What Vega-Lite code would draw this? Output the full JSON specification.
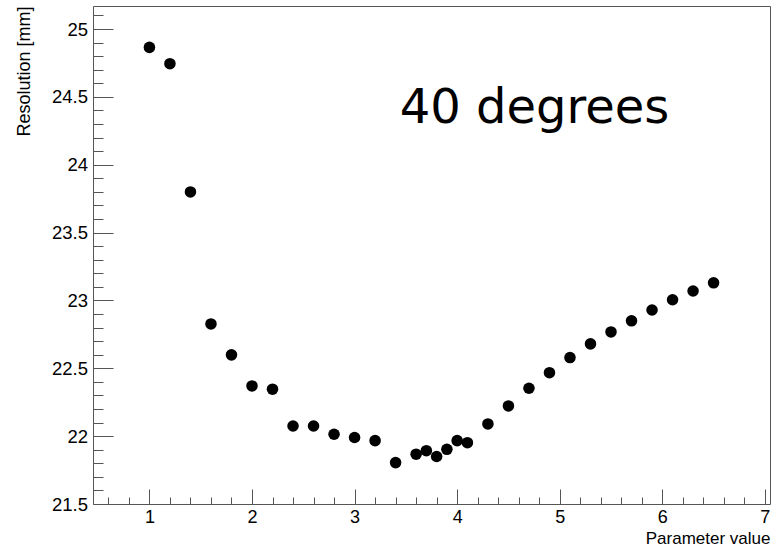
{
  "$schema": "https://vega.github.io/schema/vega-lite/v6.json",
  "width": 677,
  "height": 498,
  "autosize": {"type": "none"},
  "padding": {"left": 93, "top": 6, "right": 4, "bottom": 46},
  "background": "white",
  "config": {
    "view": {"stroke": "#555555", "strokeWidth": 1},
    "font": "Liberation Sans"
  },
  "datasets": {
    "pts": [
      {"param": 1.0, "res": 24.865},
      {"param": 1.2, "res": 24.745},
      {"param": 1.4, "res": 23.80},
      {"param": 1.6, "res": 22.827},
      {"param": 1.8, "res": 22.599},
      {"param": 2.0, "res": 22.37},
      {"param": 2.2, "res": 22.346},
      {"param": 2.4, "res": 22.075},
      {"param": 2.6, "res": 22.075},
      {"param": 2.8, "res": 22.014},
      {"param": 3.0, "res": 21.99},
      {"param": 3.2, "res": 21.967},
      {"param": 3.4, "res": 21.805},
      {"param": 3.6, "res": 21.867},
      {"param": 3.7, "res": 21.893},
      {"param": 3.8, "res": 21.85},
      {"param": 3.9, "res": 21.903},
      {"param": 4.0, "res": 21.967},
      {"param": 4.1, "res": 21.952},
      {"param": 4.3, "res": 22.09},
      {"param": 4.5, "res": 22.223},
      {"param": 4.7, "res": 22.353},
      {"param": 4.9, "res": 22.468},
      {"param": 5.1, "res": 22.579},
      {"param": 5.3, "res": 22.68},
      {"param": 5.5, "res": 22.768},
      {"param": 5.7, "res": 22.85},
      {"param": 5.9, "res": 22.93},
      {"param": 6.1, "res": 23.005},
      {"param": 6.3, "res": 23.07},
      {"param": 6.5, "res": 23.13}
    ],
    "note": [
      {"param": 3.44, "res": 24.307, "label": "40 degrees"}
    ]
  },
  "layer": [
    {
      "data": {"name": "pts"},
      "mark": {"type": "point", "shape": "circle", "filled": true, "color": "black", "opacity": 1, "size": 133},
      "encoding": {
        "x": {
          "field": "param", "type": "quantitative",
          "scale": {"domain": [0.45, 7.05], "nice": false, "zero": false},
          "axis": {
            "title": "Parameter value",
            "values": [0.6,0.8,1,1.2,1.4,1.6,1.8,2,2.2,2.4,2.6,2.8,3,3.2,3.4,3.6,3.8,4,4.2,4.4,4.6,4.8,5,5.2,5.4,5.6,5.8,6,6.2,6.4,6.6,6.8,7],
            "tickCount": 200,
            "labelExpr": "abs(datum.value - round(datum.value)) < 0.001 ? '' + round(datum.value) : ''",
            "tickSize": {"condition": {"test": "abs(datum.value - round(datum.value)) < 0.001", "value": -15}, "value": -7},
            "tickColor": "#555555",
            "tickWidth": 1,
            "domain": false,
            "grid": false,
            "labelFont": "Liberation Sans",
            "labelFontSize": 18,
            "labelColor": "black",
            "labelPadding": 33.5,
            "labelBaseline": "alphabetic",
            "labelFlush": false,
            "labelOverlap": false,
            "titleFont": "Liberation Sans",
            "titleFontSize": 17,
            "titleFontWeight": "normal",
            "titleColor": "black",
            "titleAnchor": "end",
            "titleAlign": "right",
            "titleBaseline": "alphabetic",
            "titleX": 677,
            "titleY": 39.5
          }
        },
        "y": {
          "field": "res", "type": "quantitative",
          "scale": {"domain": [21.5, 25.17], "nice": false, "zero": false},
          "axis": {
            "title": "Resolution [mm]",
            "values": [21.5,21.6,21.7,21.8,21.9,22,22.1,22.2,22.3,22.4,22.5,22.6,22.7,22.8,22.9,23,23.1,23.2,23.3,23.4,23.5,23.6,23.7,23.8,23.9,24,24.1,24.2,24.3,24.4,24.5,24.6,24.7,24.8,24.9,25,25.1],
            "tickCount": 200,
            "labelExpr": "abs(datum.value*2 - round(datum.value*2)) < 0.001 ? '' + round(datum.value*2)/2 : ''",
            "tickSize": {"condition": {"test": "abs(datum.value*2 - round(datum.value*2)) < 0.001", "value": -20}, "value": -10},
            "tickColor": "#555555",
            "tickWidth": 1,
            "domain": false,
            "grid": false,
            "labelFont": "Liberation Sans",
            "labelFontSize": 18.5,
            "labelColor": "black",
            "labelPadding": 25.5,
            "labelFlush": false,
            "labelOverlap": false,
            "titleFont": "Liberation Sans",
            "titleFontSize": 18,
            "titleFontWeight": "normal",
            "titleColor": "black",
            "titleAngle": -90,
            "titleAnchor": "end",
            "titleAlign": "right",
            "titleBaseline": "middle",
            "titleX": -69,
            "titleY": 0
          }
        }
      }
    },
    {
      "data": {"name": "note"},
      "mark": {"type": "text", "font": "DejaVu Sans", "fontSize": 48, "align": "left", "baseline": "alphabetic", "color": "black"},
      "encoding": {
        "x": {"field": "param", "type": "quantitative"},
        "y": {"field": "res", "type": "quantitative"},
        "text": {"field": "label"}
      }
    }
  ]
}
